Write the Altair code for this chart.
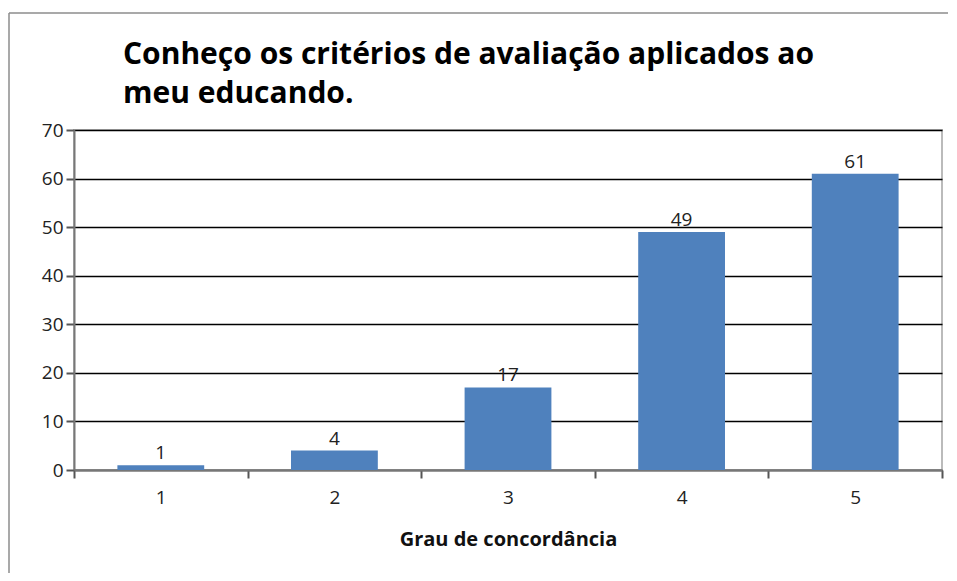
import altair as alt
import pandas as pd

categories = ["1", "2", "3", "4", "5"]
values = [1, 4, 17, 49, 61]
title_lines = ["Conheço os critérios de avaliação aplicados ao", "meu educando."]
x_title = "Grau de concordância"

df = pd.DataFrame({"grau": categories, "n": values})

FONT = "Open Sans"

base = alt.Chart(df)
one = base.transform_filter(alt.datum.grau == "1")

border_top = one.mark_rule(stroke="#8c8c8c", strokeWidth=1.5).encode(
    x=alt.value(-65), x2=alt.value(874), y=alt.value(-117)
)
border_left = one.mark_rule(stroke="#8c8c8c", strokeWidth=1.5).encode(
    x=alt.value(-65), y=alt.value(-117), y2=alt.value(480)
)

bars = base.mark_bar(color="#4F81BD", width=alt.RelativeBandSize(0.5)).encode(
    x=alt.X("grau:N", sort=categories,
            scale=alt.Scale(paddingInner=0, paddingOuter=0),
            axis=alt.Axis(title=x_title, labelAngle=0, tickBand="extent",
                          labelFont=FONT, labelFontSize=19, labelColor="#222",
                          labelPadding=10, tickSize=8, tickColor="#555", tickWidth=2,
                          domainColor="#777", domainWidth=2,
                          titleFont=FONT, titleFontSize=20, titleFontWeight="bold",
                          titleColor="#111", titlePadding=22, grid=False)),
    y=alt.Y("n:Q", scale=alt.Scale(domain=[0, 70]),
            axis=alt.Axis(title=None, values=list(range(0, 71, 10)),
                          labelFont=FONT, labelFontSize=19, labelColor="#222",
                          labelPadding=3, tickSize=8, tickColor="#555", tickWidth=2,
                          domainColor="#777", domainWidth=2,
                          grid=True, gridColor="#000", gridWidth=1.5)),
)

labels = base.mark_text(font=FONT, fontSize=19, color="#222", dy=-12).encode(
    x=alt.X("grau:N", sort=categories),
    y=alt.Y("n:Q"),
    text=alt.Text("n:Q"),
)

chart = alt.layer(border_top, border_left, bars, labels).properties(
    width=868, height=340,
    padding={"left": 66, "top": 122, "right": 7, "bottom": 103},
    autosize=alt.AutoSizeParams(type="none"),
    title=alt.TitleParams(text=title_lines, anchor="start", dx=49, offset=-121,
                          baseline="alphabetic",
                          font=FONT, fontSize=30, fontWeight="bold", color="#000",
                          lineHeight=39, frame="group"),
).configure_view(stroke="#bbb", strokeWidth=2)

chart.save("out.html", embed_options={"renderer": "svg", "actions": False})
